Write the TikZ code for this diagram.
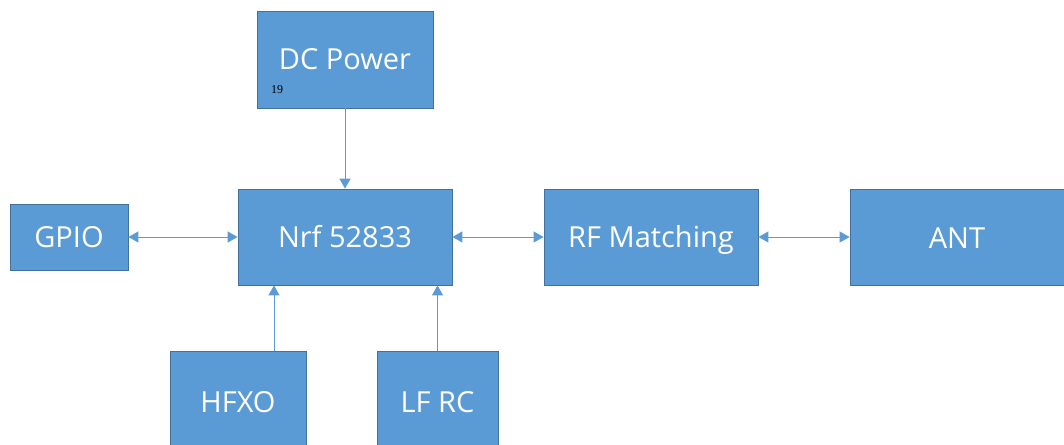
\documentclass[tikz,border=0pt]{standalone}
\usepackage{fontspec}
\setmainfont{Open Sans}
\newfontfamily\serifnum{Liberation Serif}
\usetikzlibrary{arrows.meta}
\definecolor{boxfill}{HTML}{5B9BD5}
\definecolor{boxline}{HTML}{41719C}
\tikzset{
  lbl/.style={text=white, font=\fontsize{29}{32}\selectfont, text height=20.7pt, text depth=0pt},
  blk/.style={draw=boxline, line width=0.8pt, fill=boxfill, inner sep=0pt, lbl},
  arr/.style={draw=boxfill, line width=1pt, -{Triangle[length=10pt,width=11pt]}},
  darr/.style={draw=boxfill, line width=1pt, {Triangle[length=10pt,width=11pt]}-{Triangle[length=10pt,width=11pt]}}
}
\begin{document}
\begin{tikzpicture}[x=1pt,y=-1pt]
\useasboundingbox (0,0) rectangle (1064,444);
\node[blk, minimum width=176pt, minimum height=97pt] (dc) at (345,59.5) {DC Power};
\node[blk, minimum width=214pt, minimum height=96pt] (nrf) at (345,237) {Nrf 52833};
\node[blk, minimum width=118pt, minimum height=66pt] (gpio) at (69,237) {GPIO};
\node[blk, minimum width=214pt, minimum height=96pt] (rf) at (651,237) {RF Matching};
\node[blk, minimum width=220pt, minimum height=96pt] (ant) at (960,237) {};
\node[lbl] (antl) at (957,238) {ANT};
\node[blk, minimum width=136pt, minimum height=100pt] (hfxo) at (238,401) {};
\node[lbl] (hfxol) at (238,402) {HFXO};
\node[blk, minimum width=121pt, minimum height=100pt] (lfrc) at (437.5,401) {};
\node[lbl] (lfrcl) at (437.5,402) {LF RC};
\node[text=black, font=\serifnum\fontsize{12}{14}\selectfont] (n19) at (277,90) {19};
\draw[arr] (dc.south) -- (nrf.north);
\draw[darr] (gpio.east) -- (nrf.west);
\draw[darr] (nrf.east) -- (rf.west);
\draw[darr] (rf.east) -- (ant.west);
\draw[arr] ([xshift=36pt]hfxo.north) -- ([xshift=36pt]hfxo.north |- nrf.south);
\draw[arr] (lfrc.north) -- (lfrc.north |- nrf.south);
\end{tikzpicture}
\end{document}
